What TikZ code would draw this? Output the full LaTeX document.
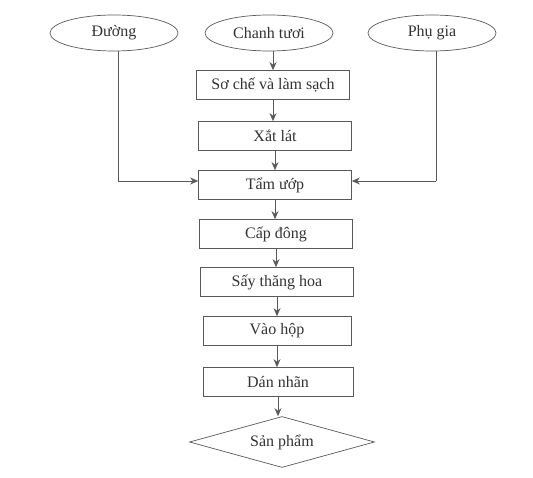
\documentclass[tikz,border=0pt]{standalone}
\usepackage{fontspec}
\setmainfont{Liberation Serif}
\usetikzlibrary{shapes.geometric,arrows.meta}
\begin{document}
\begin{tikzpicture}[x=1pt,y=-1pt,
  every node/.style={font=\fontsize{16}{18}\selectfont, text=black!80},
  src/.style={draw=black!65, ellipse, minimum width=128pt, minimum height=36pt, inner sep=0pt, line width=0.7pt},
  stepbox/.style={draw=black!65, rectangle, minimum width=153pt, minimum height=29pt, inner sep=0pt, line width=0.7pt},
  prod/.style={draw=black!65, diamond, aspect=3.6, minimum width=185pt, minimum height=51pt, inner sep=0pt, line width=0.7pt},
  link/.style={draw=black!65, line width=0.7pt, -{Stealth[length=8pt,width=7pt]}},
  plain/.style={draw=black!65, line width=0.7pt}]
\useasboundingbox (0,0) rectangle (533,478);
\fill[white] (0,0) rectangle (533,478);
\node[src] (duong) at (114,33) {Đường};
\node[src] (chanh) at (269,33) {Chanh tươi};
\node[src] (phugia) at (432,33) {Phụ gia};
\node[stepbox] (soche) at (273,85) {Sơ chế và làm sạch};
\node[stepbox] (xat) at (275,136) {Xắt lát};
\node[stepbox] (tam) at (275,185) {Tẩm ướp};
\node[stepbox] (cap) at (276,234) {Cấp đông};
\node[stepbox] (say) at (277,282) {Sấy thăng hoa};
\node[stepbox, minimum width=148pt] (vao) at (277,331) {Vào hộp};
\node[stepbox, minimum width=150pt] (dan) at (278,382) {Dán nhãn};
\node[prod] (sp) at (282,442) {Sản phẩm};
\coordinate (dl) at (118,181);
\coordinate (pr) at (436,181);
\draw[link] (soche.north |- chanh.south) -- (soche.north);
\draw[link] (soche.south) -- (soche.south |- xat.north);
\draw[link] (xat.south) -- (xat.south |- tam.north);
\draw[link] (tam.south) -- (tam.south |- cap.north);
\draw[link] (cap.south) -- (cap.south |- say.north);
\draw[link] (say.south) -- (say.south |- vao.north);
\draw[link] (vao.south) -- (vao.south |- dan.north);
\draw[link] (dan.south) -- (dan.south |- sp.north);
\draw[plain] (dl |- duong.south) -- (dl);
\draw[link] (dl) -- (dl -| tam.west);
\draw[plain] (pr |- phugia.south) -- (pr);
\draw[link] (pr) -- (pr -| tam.east);
\end{tikzpicture}
\end{document}
